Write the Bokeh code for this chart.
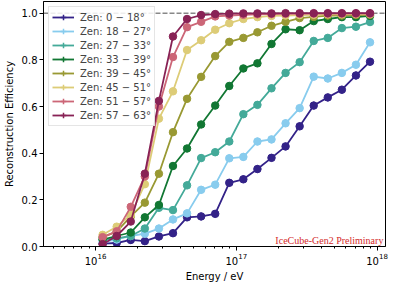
import numpy as np
from bokeh.plotting import figure
from bokeh.models import (ColumnDataSource, Span, Label, Legend, LegendItem, FixedTicker,
                          PrintfTickFormatter, Range1d)
from bokeh.embed import file_html
from bokeh.resources import INLINE

# log10(Energy / eV) bin centres
log_energy = [16.05, 16.15, 16.25, 16.35, 16.45, 16.55, 16.65, 16.75, 16.85, 16.95,
              17.05, 17.15, 17.25, 17.35, 17.45, 17.55, 17.65, 17.75, 17.85, 17.95]

zen_labels = ["Zen: 0 \u2212 18\u00b0", "Zen: 18 \u2212 27\u00b0", "Zen: 27 \u2212 33\u00b0",
              "Zen: 33 \u2212 39\u00b0", "Zen: 39 \u2212 45\u00b0", "Zen: 45 \u2212 51\u00b0",
              "Zen: 51 \u2212 57\u00b0", "Zen: 57 \u2212 63\u00b0"]

eff_0_18 = [0.012, 0.015, 0.028, 0.023, 0.043, 0.057, 0.125, 0.129, 0.140, 0.273,
            0.288, 0.332, 0.380, 0.429, 0.515, 0.604, 0.639, 0.672, 0.733, 0.792]
eff_18_27 = [0.020, 0.030, 0.045, 0.055, 0.077, 0.116, 0.142, 0.243, 0.265, 0.378,
             0.384, 0.450, 0.459, 0.528, 0.593, 0.728, 0.720, 0.744, 0.779, 0.875]
eff_27_33 = [0.030, 0.035, 0.045, 0.077, 0.166, 0.156, 0.262, 0.379, 0.404, 0.450,
             0.567, 0.607, 0.678, 0.744, 0.790, 0.881, 0.894, 0.936, 0.942, 0.962]
eff_33_39 = [0.030, 0.045, 0.060, 0.125, 0.178, 0.345, 0.420, 0.523, 0.604, 0.688,
             0.763, 0.785, 0.868, 0.931, 0.927, 0.966, 0.975, 0.983, 0.983, 0.988]
eff_39_45 = [0.040, 0.064, 0.129, 0.188, 0.312, 0.490, 0.633, 0.727, 0.816, 0.877,
             0.894, 0.918, 0.946, 0.963, 0.979, 0.984, 0.990, 0.990, 0.992, 0.993]
eff_45_51 = [0.050, 0.085, 0.135, 0.267, 0.548, 0.665, 0.842, 0.884, 0.929, 0.957,
             0.975, 0.983, 0.988, 0.990, 0.992, 0.993, 0.995, 0.995, 0.996, 0.996]
eff_51_57 = [0.040, 0.065, 0.170, 0.300, 0.600, 0.812, 0.940, 0.963, 0.986, 0.990,
             0.993, 0.995, 0.996, 0.997, 0.997, 0.998, 0.998, 0.998, 0.998, 0.998]
eff_57_63 = [0.010, 0.045, 0.107, 0.312, 0.624, 0.900, 0.975, 0.992, 0.996, 0.998,
             0.999, 0.999, 0.999, 1.000, 1.000, 1.000, 1.000, 1.000, 1.000, 1.000]

eff_errors = [0.016, 0.016, 0.015, 0.014, 0.013, 0.012, 0.010, 0.010]

series = [eff_0_18, eff_18_27, eff_27_33, eff_33_39, eff_39_45, eff_45_51, eff_51_57, eff_57_63]
colors = ["#332288", "#88CCEE", "#44AA99", "#117733", "#999933", "#DDCC77", "#CC6677", "#882255"]

p = figure(width=391, height=284, x_axis_type="log", output_backend="svg",
           toolbar_location=None,
           x_range=Range1d(10 ** 15.63, 10 ** 18.06), y_range=Range1d(0, 1.05),
           min_border_left=0, min_border_right=6, min_border_top=1, min_border_bottom=0)
p.title.visible = False
p.grid.visible = False
p.background_fill_color = "white"
p.outline_line_color = "black"
p.outline_line_width = 1
p.outline_line_alpha = 1

ref_line = Span(location=1.0, dimension="width", line_color="#888888", line_dash="5 2",
                line_width=1.5, level="underlay")
p.add_layout(ref_line)

energy = [10 ** e for e in log_energy]
items = []
for lab, vals, col, err in zip(zen_labels, series, colors, eff_errors):
    v = np.array(vals)
    src = ColumnDataSource(dict(x=energy, y=v, lo=v - err, hi=np.minimum(v + err, 1.0)))
    lr = p.line("x", "y", source=src, line_color=col, line_width=1.8)
    p.segment(x0="x", y0="lo", x1="x", y1="hi", source=src, line_color=col, line_width=1.5)
    p.scatter("x", "y", source=src, size=7.5, fill_color=col, line_color=col, marker="circle")
    leg = p.scatter(x=[np.nan], y=[np.nan], marker="cross", size=10, line_color=col, line_width=1.5)
    items.append(LegendItem(label=lab, renderers=[lr, leg]))

legend = Legend(items=items, location="top_left", margin=5, padding=3, spacing=0,
                label_height=14, glyph_height=14, glyph_width=22, label_standoff=6,
                label_text_font="DejaVu Sans", label_text_font_size="10px",
                border_line_color="#cccccc", border_line_width=1,
                background_fill_color="white", background_fill_alpha=0.85)
p.add_layout(legend)

p.add_layout(Label(x=10 ** 18.045, y=0.026, text="IceCube-Gen2 Preliminary",
                   text_align="right", text_baseline="alphabetic",
                   text_font="Liberation Serif", text_font_size="10px", text_color="#d42a2a"))

p.xaxis.ticker = FixedTicker(ticks=[1e16, 1e17, 1e18],
                             minor_ticks=[m * 10 ** k for k in (15, 16, 17) for m in range(2, 10)])
p.yaxis.ticker = FixedTicker(ticks=[0.0, 0.2, 0.4, 0.6, 0.8, 1.0], minor_ticks=[])
p.yaxis.formatter = PrintfTickFormatter(format="%.1f")
p.xaxis.axis_label = "Energy / eV"
p.yaxis.axis_label = "Reconstruction Efficiency"
for ax in (p.xaxis, p.yaxis):
    ax.axis_label_text_font = "DejaVu Sans"
    ax.axis_label_text_font_size = "10px"
    ax.axis_label_text_font_style = "normal"
    ax.axis_label_text_color = "black"
    ax.major_label_text_font = "DejaVu Sans"
    ax.major_label_text_font_size = "10px"
    ax.major_label_text_color = "black"
    ax.axis_line_color = "black"
    ax.major_tick_line_color = "black"
    ax.minor_tick_line_color = "black"
    ax.major_tick_out = 4
    ax.major_tick_in = 0
    ax.minor_tick_out = 2
    ax.minor_tick_in = 0
    ax.major_label_standoff = 2
p.xaxis.axis_label_standoff = 3
p.yaxis.axis_label_standoff = 4

open("out.html", "w").write(file_html(p, INLINE))
